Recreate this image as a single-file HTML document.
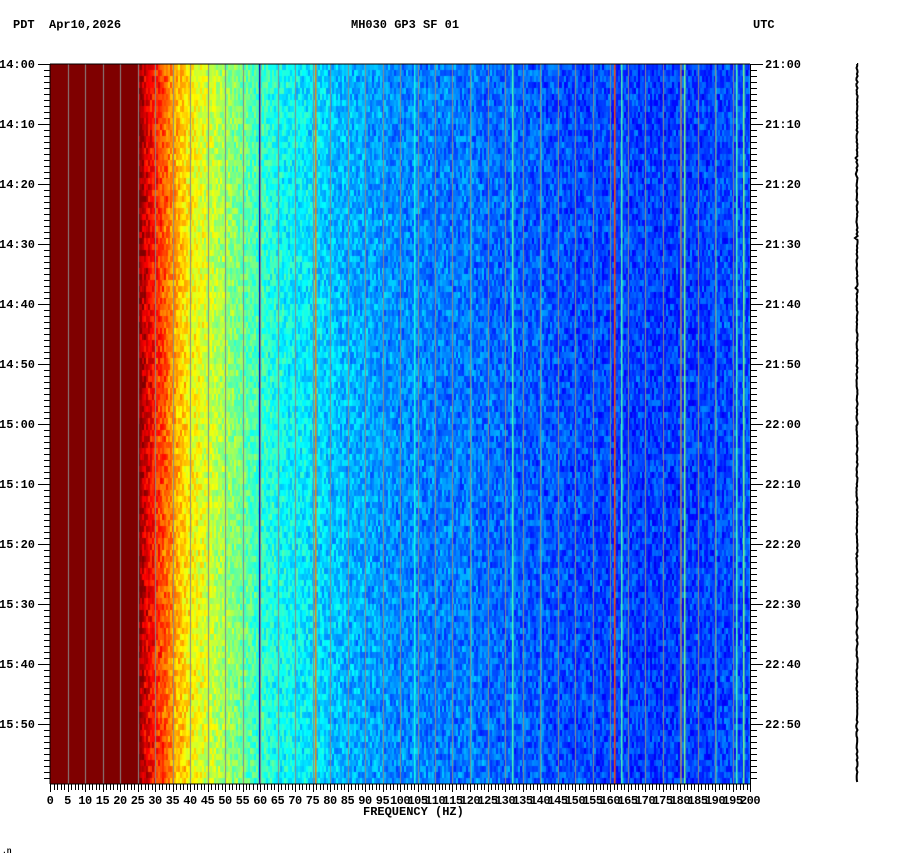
<!DOCTYPE html>
<html><head><meta charset="utf-8">
<style>
html,body{margin:0;padding:0;background:#fff;}
#wrap{position:relative;width:902px;height:864px;overflow:hidden;font-family:"Liberation Mono",monospace;font-weight:bold;font-size:12px;color:#000;}
.t{position:absolute;white-space:pre;line-height:12px;}
canvas,svg{position:absolute;left:0;top:0;}
</style></head>
<body>
<div id="wrap">
<canvas id="cv" width="902" height="864"></canvas>
<svg id="sv" width="902" height="864"></svg>
<div class="t" style="left:13px;top:19px">PDT  Apr10,2026</div>
<div class="t" style="left:351px;top:19px">MH030 GP3 SF 01</div>
<div class="t" style="left:753px;top:19px">UTC</div>
<div class="t" style="left:363px;top:806px">FREQUENCY (HZ)</div>
<div class="t" style="left:2px;top:846px;font-size:8px">.n</div>
</div>
<script>
// ---- data ----
const profileFreqs = [0,25,27,30,33,36,40,45,50,55,60,65,70,75,80,90,100,120,140,160,180,200];
const profileLevels = [1.0,1.0,0.92,0.84,0.78,0.70,0.63,0.58,0.53,0.48,0.43,0.39,0.37,0.35,0.32,0.29,0.26,0.24,0.21,0.19,0.18,0.20];
const lineFreqs = [59.8,75.8,104,120,132,140,161,163,180,181,190,196,198];
const lineLevels = [0.05,0.75,0.40,0.40,0.45,0.40,0.80,0.45,0.70,0.50,0.42,0.45,0.50];
const leftTickLabels = ["14:00","14:10","14:20","14:30","14:40","14:50","15:00","15:10","15:20","15:30","15:40","15:50"];
const rightTickLabels = ["21:00","21:10","21:20","21:30","21:40","21:50","22:00","22:10","22:20","22:30","22:40","22:50"];
const freqTickLabels = [0,5,10,15,20,25,30,35,40,45,50,55,60,65,70,75,80,85,90,95,100,105,110,115,120,125,130,135,140,145,150,155,160,165,170,175,180,185,190,195,200];

// ---- axes ----
const X0=50,X1=750,Y0=64,Y1=784,FMAX=200,TMIN=120;
const xs=f=>X0+(f/FMAX)*(X1-X0);
const ys=m=>Y0+(m/TMIN)*(Y1-Y0);

function jet(v){v=Math.max(0,Math.min(1,v));
 const r=Math.max(0,Math.min(1,Math.min(4*v-1.5,-4*v+4.5)));
 const g=Math.max(0,Math.min(1,Math.min(4*v-0.5,-4*v+3.5)));
 const b=Math.max(0,Math.min(1,Math.min(4*v+0.5,-4*v+2.5)));
 return [r*255|0,g*255|0,b*255|0];}
function prof(f){for(let i=1;i<profileFreqs.length;i++){if(f<=profileFreqs[i]){const a=profileFreqs[i-1],b=profileFreqs[i];const t=(f-a)/(b-a);return profileLevels[i-1]+t*(profileLevels[i]-profileLevels[i-1]);}}return profileLevels[profileLevels.length-1];}
function h(a,b){let n=(a*374761393+b*668265263)|0;n=(n^(n>>>13))*1274126177|0;return ((n^(n>>>16))>>>0)/4294967295;}

const cv=document.getElementById('cv');const ctx=cv.getContext('2d');
const img=ctx.createImageData(X1-X0,Y1-Y0);
const rowH=6;
for(let y=0;y<Y1-Y0;y++){const row=Math.floor(y/rowH);
 for(let x=0;x<X1-X0;x++){const f=x/(X1-X0)*FMAX;
  let v=prof(f);
  if(v<0.99){const col=Math.floor(x/2);v+= (h(col,row)-0.5)*0.13 + (h(col,row*7+3)-0.5)*0.05;}
  else v=1;
  const c=jet(v);const k=(y*(X1-X0)+x)*4;img.data[k]=c[0];img.data[k+1]=c[1];img.data[k+2]=c[2];img.data[k+3]=255;}}
ctx.putImageData(img,X0,Y0);
// narrow lines
for(let i=0;i<lineFreqs.length;i++){const c=jet(lineLevels[i]);ctx.fillStyle=`rgb(${c[0]},${c[1]},${c[2]})`;ctx.fillRect(Math.round(xs(lineFreqs[i])),Y0,1.5,Y1-Y0);}
// gridlines every 5 Hz
ctx.fillStyle='#8a8a8a';
for(let i=1;i<freqTickLabels.length-1;i++){ctx.fillRect(Math.round(xs(freqTickLabels[i])),Y0,1,Y1-Y0);}

const NS='http://www.w3.org/2000/svg';const sv=document.getElementById('sv');
function el(tag,at,name){const e=document.createElementNS(NS,tag);for(const k in at)e.setAttribute(k,at[k]);
 
 
 sv.appendChild(e);return e;}
// frame
el('line',{x1:X0,y1:Y0,x2:X1,y2:Y0,stroke:'#000','stroke-width':1},'plot-top-border');
el('line',{x1:X0,y1:Y1,x2:X1,y2:Y1,stroke:'#000','stroke-width':1},'x-axis-line');
el('line',{x1:X0,y1:Y0,x2:X0,y2:Y1,stroke:'#000','stroke-width':1},'left-axis-line');
el('line',{x1:X1+0.5,y1:Y0,x2:X1+0.5,y2:Y1,stroke:'#000','stroke-width':1},'right-axis-line');
// time ticks
for(let m=0;m<TMIN;m++){const y=Math.round(ys(m))+0.5;const major=m%10===0;
 el('line',{x1:major?38:44,y1:y,x2:X0,y2:y,stroke:'#000'},'left-time-tick');
 el('line',{x1:X1,y1:y,x2:X1+(major?13:7),y2:y,stroke:'#000'},'right-time-tick');}
for(let i=0;i<leftTickLabels.length;i++){const y=ys(i*10)+4;
 const a=el('text',{x:-1,y:y,'font-family':'Liberation Mono,monospace','font-weight':'bold','font-size':12},'left-time-label');a.textContent=leftTickLabels[i];
 const b=el('text',{x:765,y:y,'font-family':'Liberation Mono,monospace','font-weight':'bold','font-size':12},'right-time-label');b.textContent=rightTickLabels[i];}
// freq ticks
for(let f=0;f<=FMAX;f++){const x=Math.round(xs(f))+0.5;el('line',{x1:x,y1:Y1,x2:x,y2:Y1+(f%5===0?8:6),stroke:'#000'},'freq-tick');}
for(let i=0;i<freqTickLabels.length;i++){const t=el('text',{x:xs(freqTickLabels[i]),y:804,'text-anchor':'middle','font-family':'Liberation Mono,monospace','font-weight':'bold','font-size':12,'letter-spacing':'-0.5'},'freq-tick-label');t.textContent=freqTickLabels[i];}
// seismic trace on right
let d='M857,64';
for(let y=64;y<=782;y+=2){const w=(h(y,11)-0.5)*1.2+((h(y,5)>0.95)?(h(y,9)-0.5)*3:0);d+=` L${(857+w).toFixed(1)},${y}`;}
el('path',{d:d,stroke:'#000','stroke-width':2,fill:'none'},'seismogram-trace');
</script>
</body></html>
